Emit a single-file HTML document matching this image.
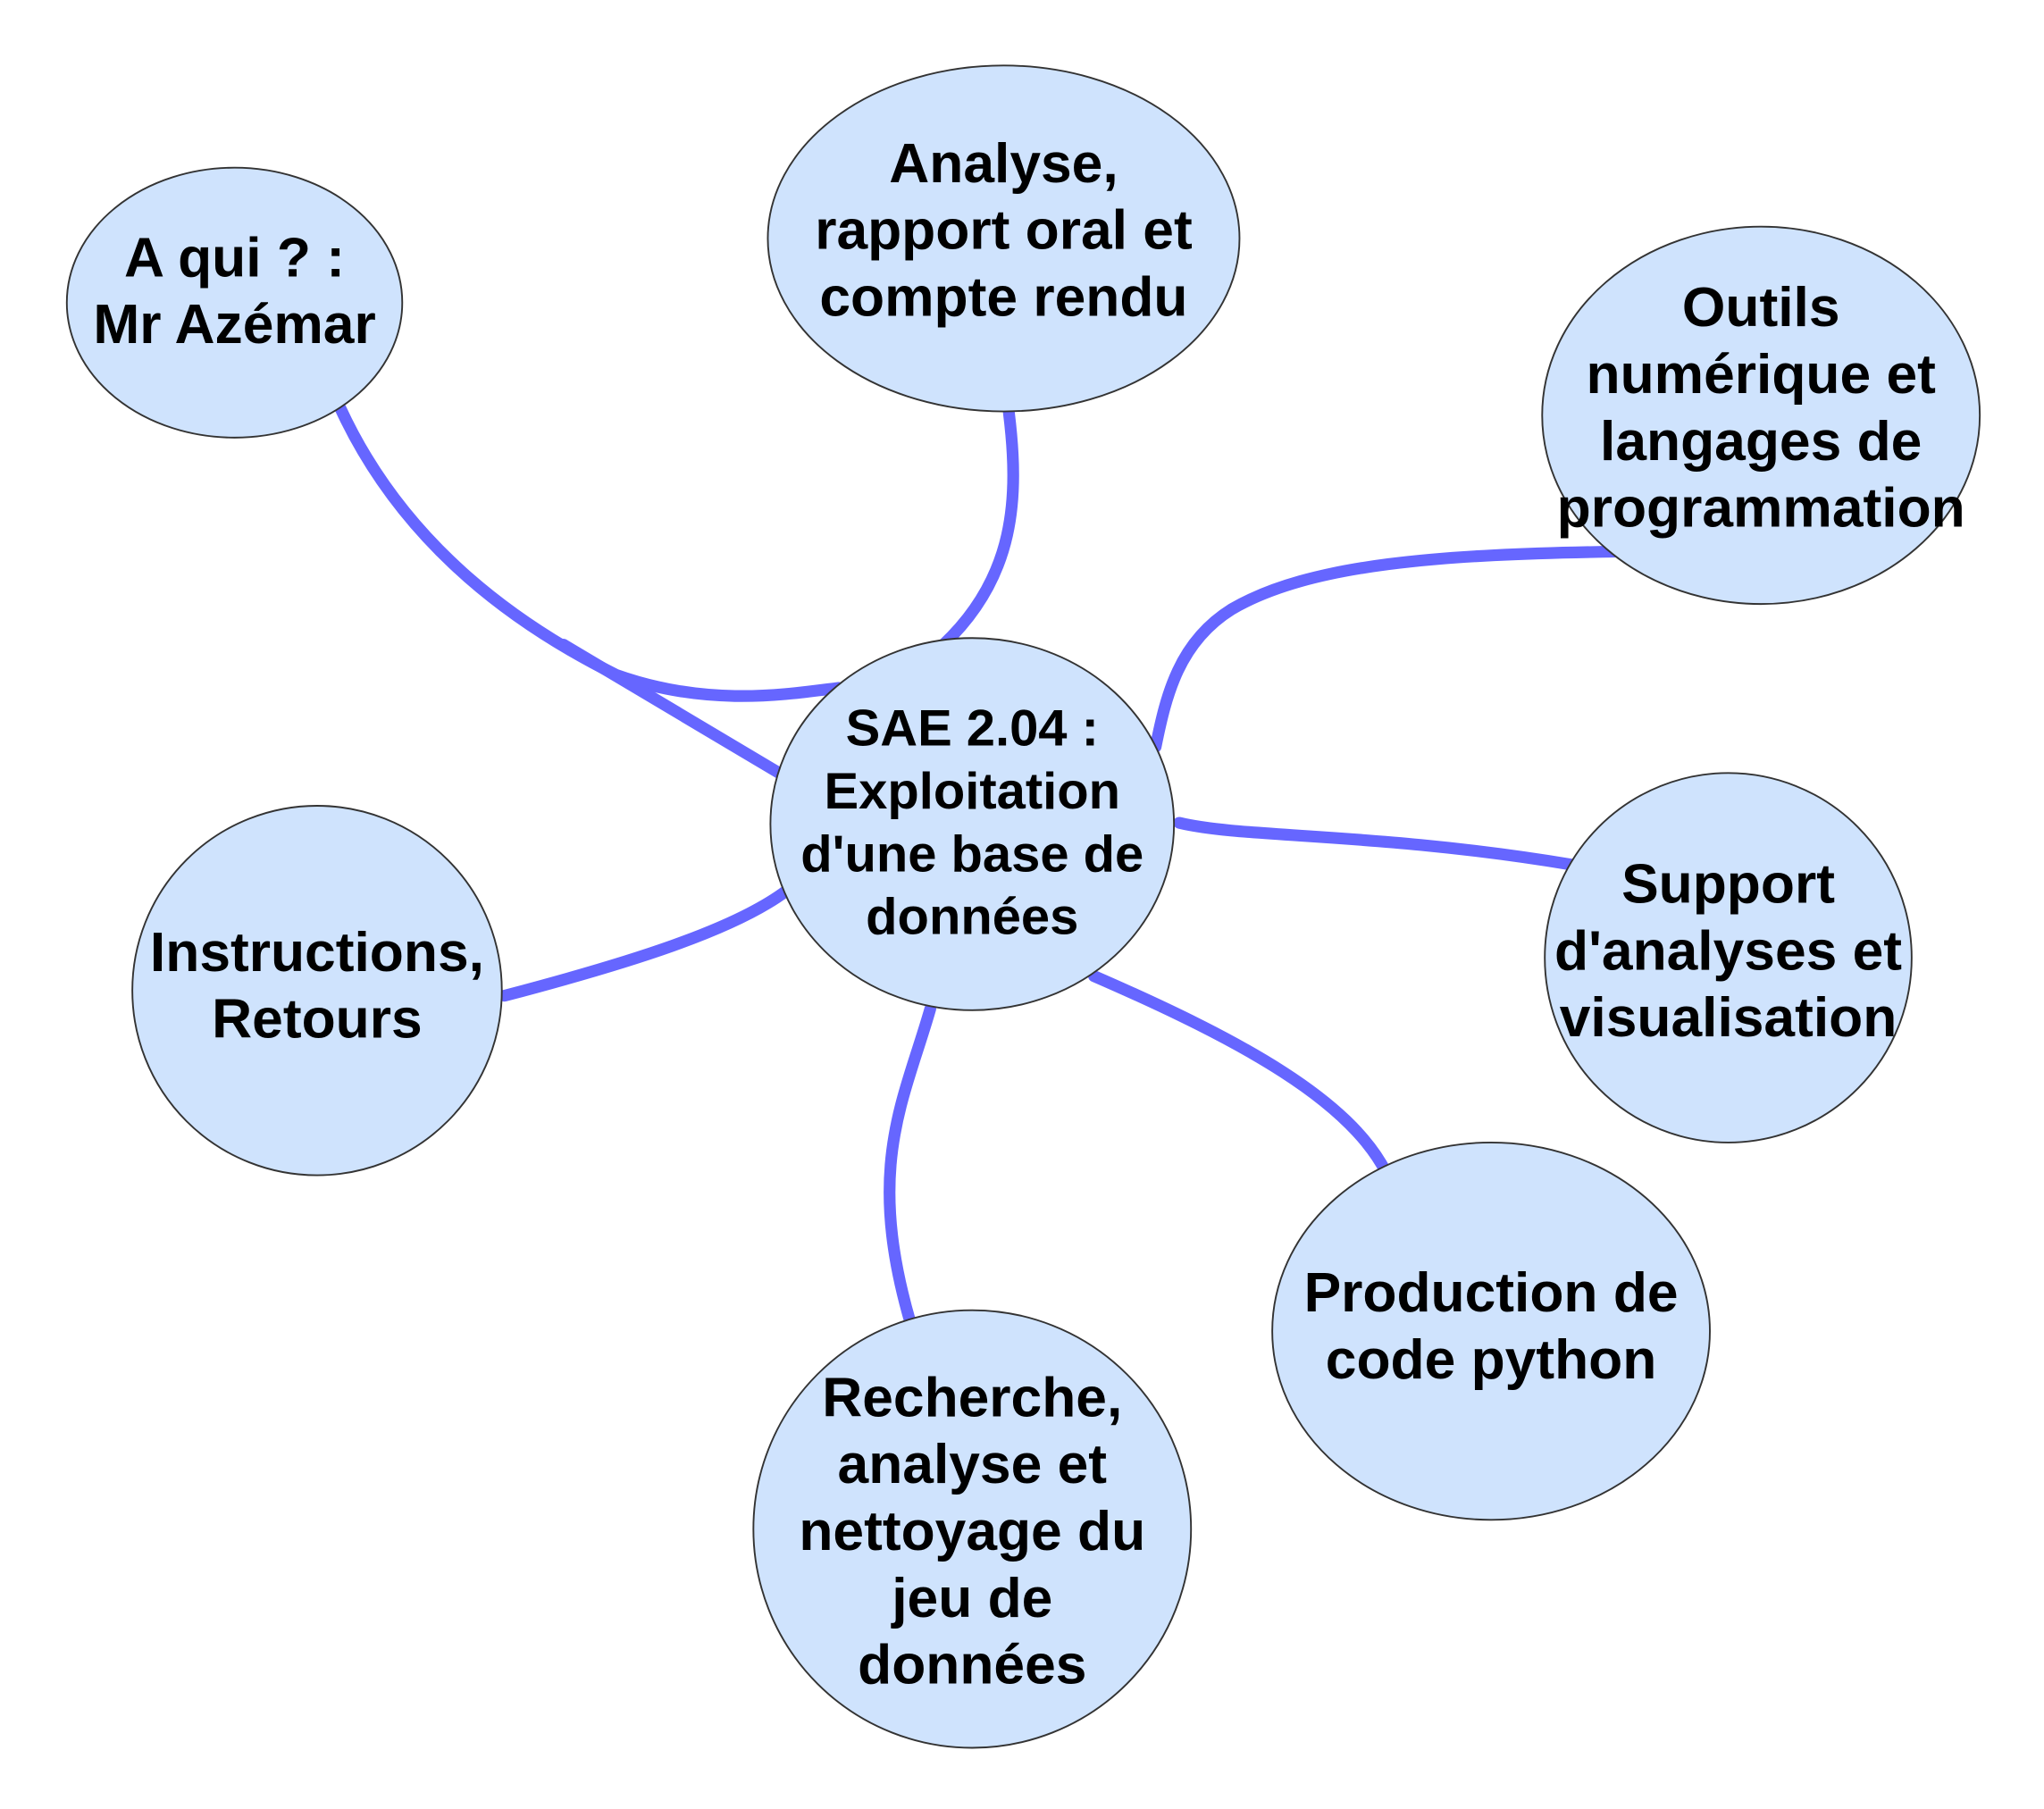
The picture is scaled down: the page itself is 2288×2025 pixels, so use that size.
<!DOCTYPE html>
<html><head><meta charset="utf-8"><style>
html,body{margin:0;padding:0;background:#fff;}
svg{display:block;}
text{font-family:"Liberation Sans",sans-serif;font-weight:bold;fill:#000;text-anchor:middle;}
</style></head><body>
<svg width="2288" height="2025" viewBox="0 0 1560 1380.7" preserveAspectRatio="none" xmlns="http://www.w3.org/2000/svg">
<g fill="none" stroke="#6666ff" stroke-width="9" stroke-linecap="round">
<path d="M260,312 C310,420 400,480 470,515 C540,540 600,530 640,525"/>
<path d="M430,492 L598,592"/>
<path d="M770,315 C778,380 775,440 720,492"/>
<path d="M1235,421 C1100,423 1000,430 940,465 C900,490 890,530 882,570"/>
<path d="M900,628 C950,640 1050,635 1200,660"/>
<path d="M835,745 C950,795 1030,840 1058,895"/>
<path d="M710,770 C690,840 660,890 695,1010"/>
<path d="M385,760 C480,735 560,710 600,680"/>
</g>
<g fill="#cfe3fd" stroke="#333" stroke-width="1.3">
<ellipse cx="179" cy="231" rx="128" ry="103"/>
<ellipse cx="766" cy="182" rx="180" ry="132"/>
<ellipse cx="1344" cy="317" rx="167" ry="144"/>
<ellipse cx="742" cy="629" rx="154" ry="142"/>
<ellipse cx="1319" cy="731" rx="140" ry="141"/>
<ellipse cx="242" cy="756" rx="141" ry="141"/>
<ellipse cx="1138" cy="1016" rx="167" ry="144"/>
<ellipse cx="742" cy="1167" rx="167" ry="167"/>
</g>
<g font-size="42.5">
<text x="179" y="211">A qui ? :</text>
<text x="179" y="262">Mr Azémar</text>
<text x="766" y="139">Analyse,</text>
<text x="766" y="190">rapport oral et</text>
<text x="766" y="241">compte rendu</text>
<text x="1344" y="249">Outils</text>
<text x="1344" y="300">numérique et</text>
<text x="1344" y="351">langages de</text>
<text x="1344" y="402">programmation</text>
<text x="1319" y="689">Support</text>
<text x="1319" y="740">d'analyses et</text>
<text x="1319" y="791">visualisation</text>
<text x="242" y="741">Instructions,</text>
<text x="242" y="792">Retours</text>
<text x="1138" y="1001">Production de</text>
<text x="1138" y="1052">code python</text>
<text x="742" y="1081">Recherche,</text>
<text x="742" y="1132">analyse et</text>
<text x="742" y="1183">nettoyage du</text>
<text x="742" y="1234">jeu de</text>
<text x="742" y="1285">données</text>
</g>
<g font-size="39.5">
<text x="742" y="569">SAE 2.04 :</text>
<text x="742" y="617">Exploitation</text>
<text x="742" y="665">d'une base de</text>
<text x="742" y="713">données</text>
</g>
</svg>
</body></html>
